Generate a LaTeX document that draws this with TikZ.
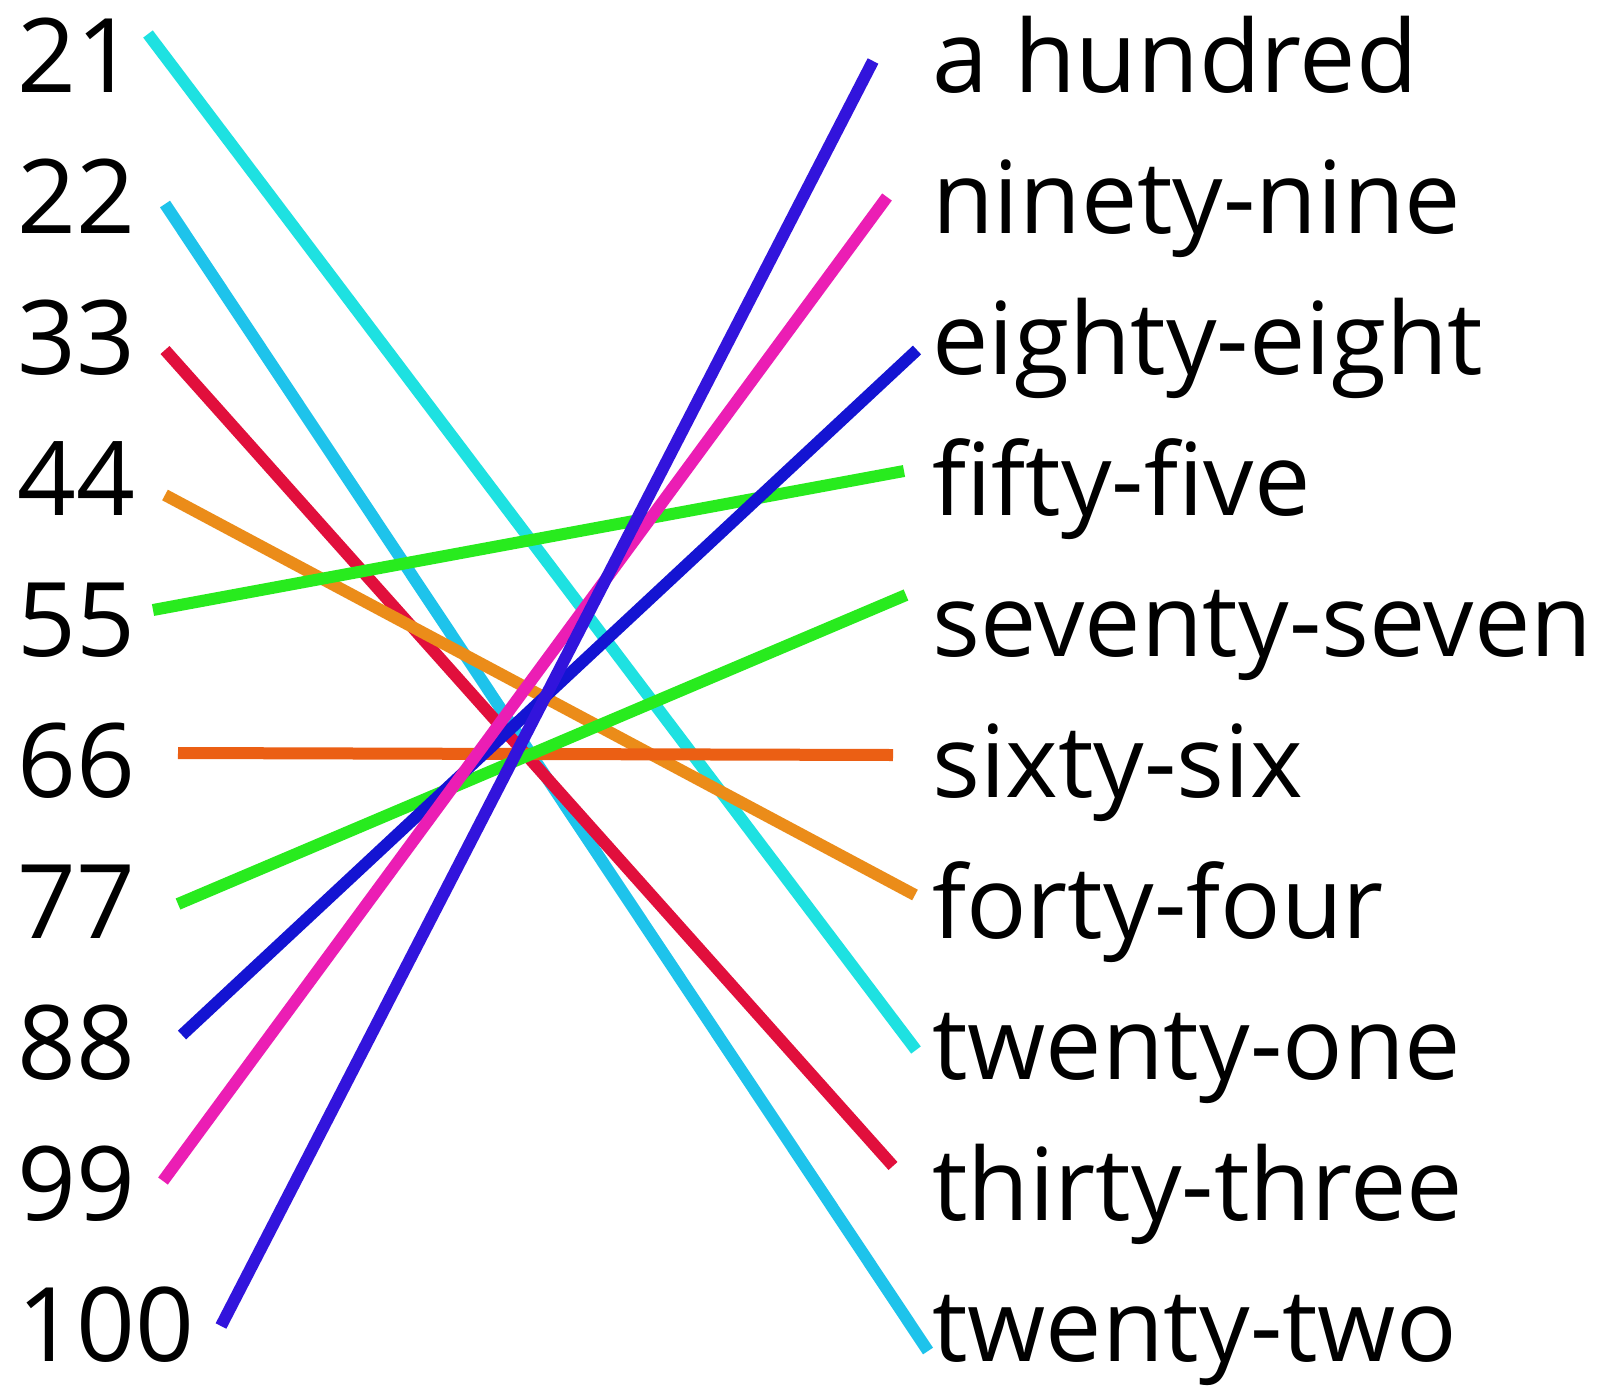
\documentclass[tikz,border=0pt]{standalone}
\usepackage{fontspec}
\setmainfont{Open Sans}
\definecolor{cturq}{RGB}{30,225,225}
\definecolor{clblue}{RGB}{30,195,235}
\definecolor{cred}{RGB}{225,15,60}
\definecolor{corange}{RGB}{235,140,25}
\definecolor{cgreen}{RGB}{40,235,30}
\definecolor{cdorange}{RGB}{235,95,20}
\definecolor{cblue}{RGB}{20,20,210}
\definecolor{cmag}{RGB}{235,30,180}
\definecolor{cpurple}{RGB}{50,20,220}
\begin{document}
\begin{tikzpicture}[x=1pt,y=-1pt,
  lbl/.style={anchor=base west,inner sep=0pt,font=\fontsize{103}{105}\selectfont},
  rlbl/.style={anchor=base west,inner sep=0pt,font=\fontsize{100.5}{105}\selectfont},
  link/.style={line width=12pt}]
\useasboundingbox[fill=white] (0,0) rectangle (1599,1390);
% left labels
\foreach \t [count=\i from 0] in {21,22,33,44,55,66,77,88,99,100}
  \node[lbl] (L\i) at (17,{92+141*\i}) {\t};
% right labels
\foreach \t [count=\i from 0] in {a hundred,ninety-nine,eighty-eight,fifty-five,seventy-seven,sixty-six,forty-four,twenty-one,thirty-three,twenty-two}
  \node[rlbl] (R\i) at (932,{92+141*\i}) {\t};
% endpoints
\coordinate (a21) at (148,34);   \coordinate (b21) at (916,1050);
\coordinate (a22) at (165,204);  \coordinate (b22) at (928,1351);
\coordinate (a33) at (165,350);  \coordinate (b33) at (893,1166);
\coordinate (a44) at (165,495);  \coordinate (b44) at (915,895);
\coordinate (a55) at (153,610);  \coordinate (b55) at (904,471);
\coordinate (a66) at (178,753);  \coordinate (b66) at (893,755);
\coordinate (a77) at (178,904);  \coordinate (b77) at (906,595);
\coordinate (a88) at (182,1035); \coordinate (b88) at (917,350);
\coordinate (a99) at (163,1181); \coordinate (b99) at (887,197);
\coordinate (a100) at (221,1326); \coordinate (b100) at (873,61);
\draw[link,cturq] (a21) -- (b21);
\draw[link,clblue] (a22) -- (b22);
\draw[link,cred] (a33) -- (b33);
\draw[link,corange] (a44) -- (b44);
\draw[link,cgreen] (a55) -- (b55);
\draw[link,cdorange] (a66) -- (b66);
\draw[link,cgreen] (a77) -- (b77);
\draw[link,cblue] (a88) -- (b88);
\draw[link,cmag] (a99) -- (b99);
\draw[link,cpurple] (a100) -- (b100);
\end{tikzpicture}
\end{document}
